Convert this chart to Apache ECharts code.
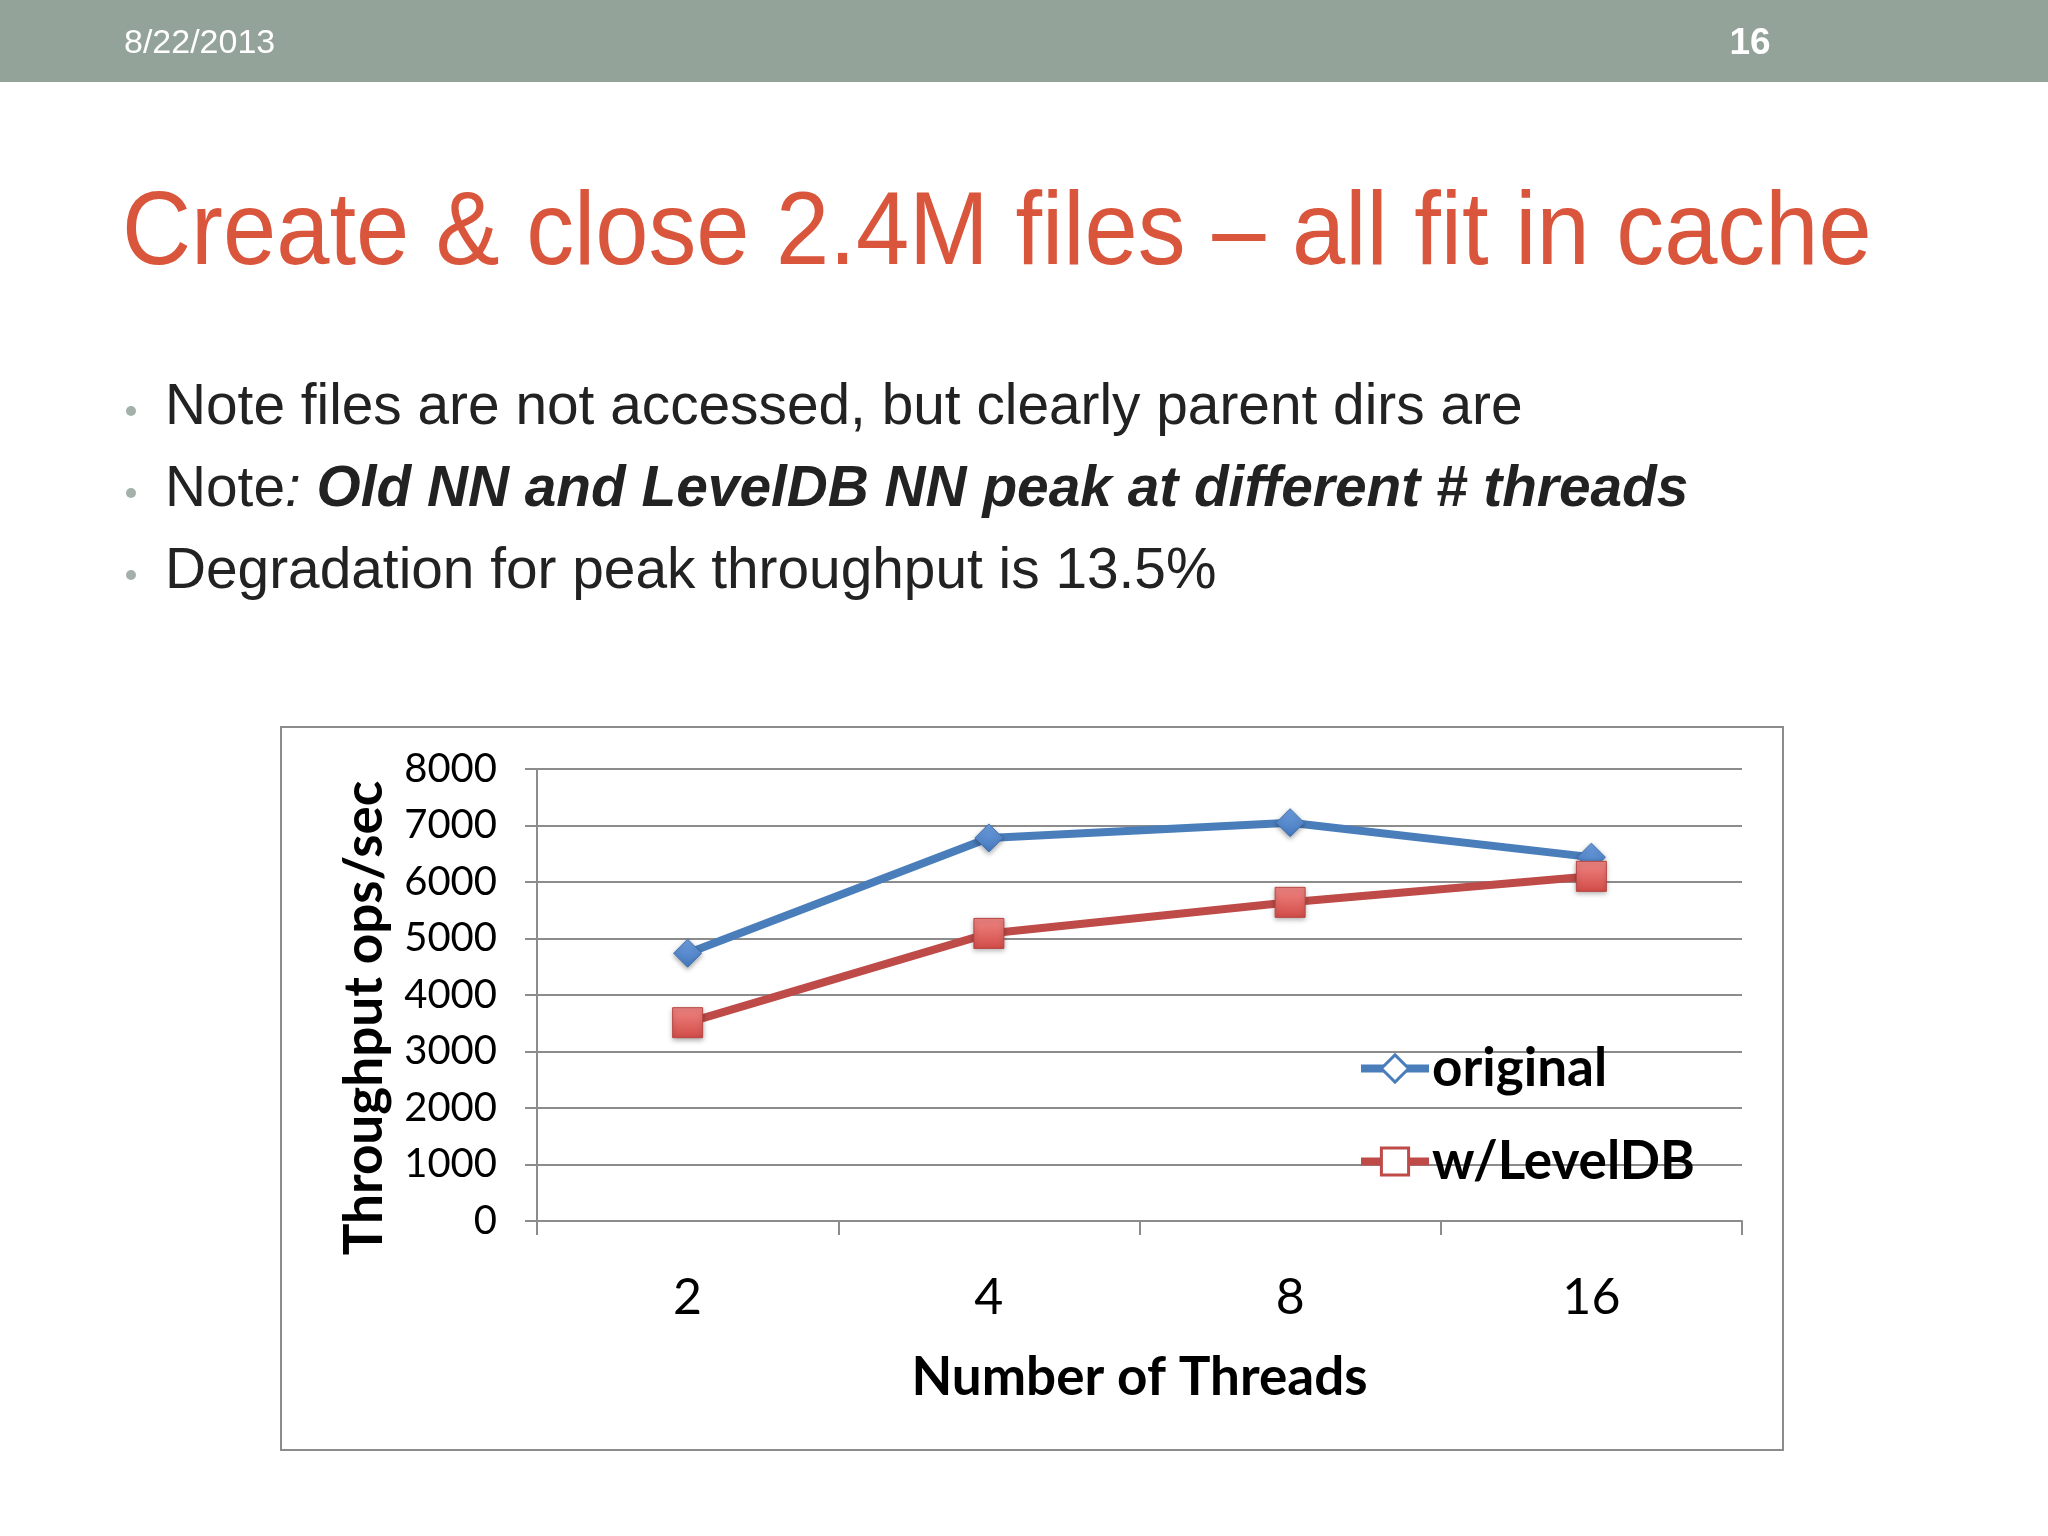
<!DOCTYPE html>
<html>
<head>
    <meta charset="utf-8">
    <title>Create & close 2.4M files</title>
    <script src="https://cdn.jsdelivr.net/npm/echarts@6/dist/echarts.min.js"></script>
    <style>
        html, body { margin: 0; padding: 0; background: #fff; }
    </style>
</head>
<body>
    <div id="main" style="width: 2048px;height:1536px;"></div>
    <script type="text/javascript">
        // chart data
        var threads = ['2', '4', '8', '16'];
        var seriesNames = ['original', 'w/LevelDB'];
        var original = [4740, 6780, 7050, 6440];
        var levelDB = [3510, 5090, 5640, 6100];
        var yMin = 0, yMax = 8000, yStep = 1000;

        // slide text
        var slideDate = '8/22/2013';
        var slideNum = '16';
        var slideTitle = 'Create & close 2.4M files \u2013 all fit in cache';
        var bullets = [
            '{r|Note files are not accessed, but clearly parent dirs are}',
            '{r|Note}{i|:}{bi| Old NN and LevelDB NN peak at different # threads}',
            '{r|Degradation for peak throughput is 13.5%}'
        ];
        var bulletY = [408, 490, 572];

        var blue = '#4a7ebb';
        var red = '#be4b48';
        var gridGrey = '#8c8c8c';
        var chartFont = 'Lato';
        var slideFont = 'Liberation Sans';

        var myChart = echarts.init(document.getElementById('main'));

        var graphics = [
            { type: 'rect', shape: { x: 0, y: 0, width: 2048, height: 82 }, style: { fill: '#93a39a' }, z: -10 },
            { type: 'text', x: 124, y: 44, style: { text: slideDate, fill: '#fff', font: '34px "Liberation Sans"', verticalAlign: 'middle' } },
            { type: 'text', x: 1750, y: 44, style: { text: slideNum, fill: '#fff', font: 'bold 37px "Liberation Sans"', align: 'center', verticalAlign: 'middle' } },
            // title is slightly condensed like the original font
            { type: 'text', x: 122, y: 235, scaleX: 0.92, style: { text: slideTitle, fill: '#d9553b', font: '104px "Liberation Sans"', verticalAlign: 'middle' } },
            // chart frame
            { type: 'rect', shape: { x: 281, y: 727, width: 1502, height: 723 }, style: { fill: null, stroke: gridGrey, lineWidth: 2 }, z: -5 }
        ];
        bullets.forEach(function (b, i) {
            graphics.push({ type: 'circle', shape: { cx: 131, cy: bulletY[i] + 3, r: 5 }, style: { fill: '#a3b1aa' } });
            graphics.push({
                type: 'text', x: 165, y: bulletY[i],
                style: {
                    text: b, verticalAlign: 'middle', fill: '#222',
                    rich: {
                        r: { fontFamily: slideFont, fontSize: 56.8, fill: '#222' },
                        i: { fontFamily: slideFont, fontSize: 56.8, fontStyle: 'italic', fill: '#222' },
                        bi: { fontFamily: slideFont, fontSize: 56.8, fontStyle: 'italic', fontWeight: 'bold', fill: '#222' }
                    }
                }
            });
        });

        var option = {
            backgroundColor: '#fff',
            animation: false,
            graphic: graphics,
            grid: { left: 537, right: 306, top: 769, bottom: 315, containLabel: false },
            legend: {
                orient: 'vertical',
                left: 1352,
                top: 1037,
                itemWidth: 68,
                itemHeight: 34,
                itemGap: 40,
                selectedMode: false,
                lineStyle: { width: 8 },
                textStyle: { fontFamily: chartFont, fontWeight: 'bold', fontSize: 53, color: '#000', padding: [0, 0, 0, -2] },
                data: [
                    { name: seriesNames[0], itemStyle: { color: '#fff', borderColor: blue, borderWidth: 3, shadowBlur: 0 } },
                    { name: seriesNames[1], itemStyle: { color: '#fff', borderColor: red, borderWidth: 3, shadowBlur: 0 } }
                ]
            },
            xAxis: {
                type: 'category',
                data: threads,
                name: 'Number of Threads',
                nameLocation: 'middle',
                nameGap: 130,
                nameTextStyle: { fontFamily: chartFont, fontWeight: 'bold', fontSize: 53, color: '#000' },
                axisLine: { lineStyle: { color: gridGrey, width: 2 } },
                axisTick: { show: true, length: 14, lineStyle: { color: gridGrey, width: 2 } },
                axisLabel: { margin: 52, fontFamily: chartFont, fontSize: 50, color: '#000' }
            },
            yAxis: {
                type: 'value',
                min: yMin,
                max: yMax,
                interval: yStep,
                name: 'Throughput ops/sec',
                nameLocation: 'middle',
                nameGap: 146,
                nameRotate: 90,
                nameTextStyle: { fontFamily: chartFont, fontWeight: 'bold', fontSize: 53, color: '#000', padding: [0, 46, 0, 0] },
                axisLine: { show: true, lineStyle: { color: gridGrey, width: 2 } },
                axisTick: { show: true, length: 12, lineStyle: { color: gridGrey, width: 2 } },
                axisLabel: {
                    margin: 40, fontFamily: chartFont, fontSize: 40, color: '#000',
                    padding: [11, 0, 0, 0],
                    formatter: function (v) { return String(v); }
                },
                splitLine: { lineStyle: { color: gridGrey, width: 2 } }
            },
            series: [
                {
                    name: seriesNames[0],
                    type: 'line',
                    data: original,
                    symbol: 'diamond',
                    symbolSize: 28,
                    lineStyle: { color: blue, width: 8 },
                    itemStyle: {
                        color: {
                            type: 'linear', x: 0, y: 0, x2: 0, y2: 1,
                            colorStops: [{ offset: 0, color: '#6e9fe0' }, { offset: 1, color: '#4578bd' }]
                        },
                        borderColor: '#4172b3',
                        borderWidth: 1,
                        shadowBlur: 5,
                        shadowColor: 'rgba(0,0,0,0.35)',
                        shadowOffsetY: 2
                    },
                    z: 3
                },
                {
                    name: seriesNames[1],
                    type: 'line',
                    data: levelDB,
                    symbol: 'rect',
                    symbolSize: 30,
                    lineStyle: { color: red, width: 8 },
                    itemStyle: {
                        color: {
                            type: 'linear', x: 0, y: 0, x2: 0, y2: 1,
                            colorStops: [{ offset: 0, color: '#f08683' }, { offset: 1, color: '#d24c48' }]
                        },
                        borderColor: '#b84643',
                        borderWidth: 1,
                        shadowBlur: 5,
                        shadowColor: 'rgba(0,0,0,0.35)',
                        shadowOffsetY: 2
                    },
                    z: 4
                }
            ]
        };

        myChart.setOption(option);
    </script>
</body>
</html>
